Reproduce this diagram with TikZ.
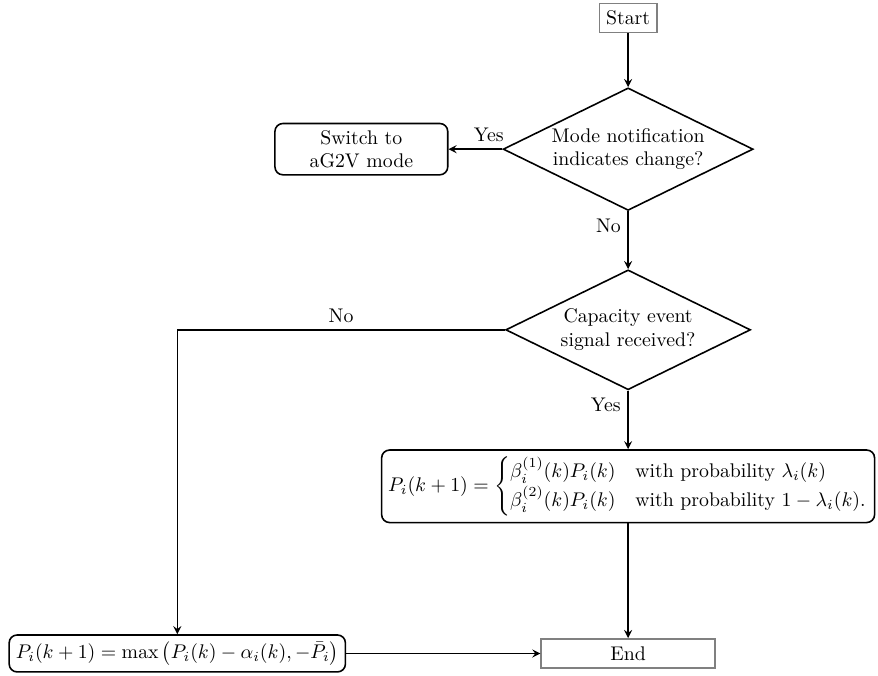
\documentclass[tikz,border=0pt]{standalone}
\usepackage{amsmath}
\usetikzlibrary{shapes.geometric}

\begin{document}
\begin{tikzpicture}[>=stealth, thick,
  boite/.style={draw, rounded corners, align=center},
  bornes/.style={draw=gray, minimum height=0.52cm},
  choix/.style={draw, diamond, aspect=2.04, inner sep=1pt, minimum width=4.35cm, minimum height=2.13cm, align=center}]
%cadre
\useasboundingbox (0,0) rectangle (15.6,-12);
%noeuds
\node[bornes] (debut) at (11.16,-0.32) {Start};
\node[choix] (mode) at (11.16,-2.65) {Mode notification\\indicates change?};
\node[boite, minimum width=3.07cm] (bascule) at (6.42,-2.65) {Switch to\\aG2V mode};
\node[choix] (capa) at (11.16,-5.86) {Capacity event\\signal received?};
\node[boite] (proba) at (11.16,-8.64) {$\displaystyle P_i(k+1) = \begin{cases} \beta_i^{(1)}(k)P_i(k) & \text{with probability } \lambda_i(k)\\ \beta_i^{(2)}(k)P_i(k) & \text{with probability } 1-\lambda_i(k). \end{cases}$};
\node[boite] (maxi) at (3.15,-11.61) {$P_i(k+1) = \max\left(P_i(k)-\alpha_i(k), -\bar{P}_i\right)$};
\node[bornes, minimum width=3.09cm] (fin) at (11.16,-11.61) {End};
%fin
%fleches
\draw[->] (debut) -- (mode);
\draw[->] (mode) -- node[above, near start] {Yes} (bascule);
\draw[->] (mode) -- node[left, near start] {No} (capa);
\draw[->] (capa.west) -| node[above, pos=0.25] {No} (maxi);
\draw[->] (capa) -- node[left, near start] {Yes} (proba);
\draw[->] (proba) -- (fin);
\draw[->] (maxi) -- (fin);
%fin
\end{tikzpicture}
\end{document}
